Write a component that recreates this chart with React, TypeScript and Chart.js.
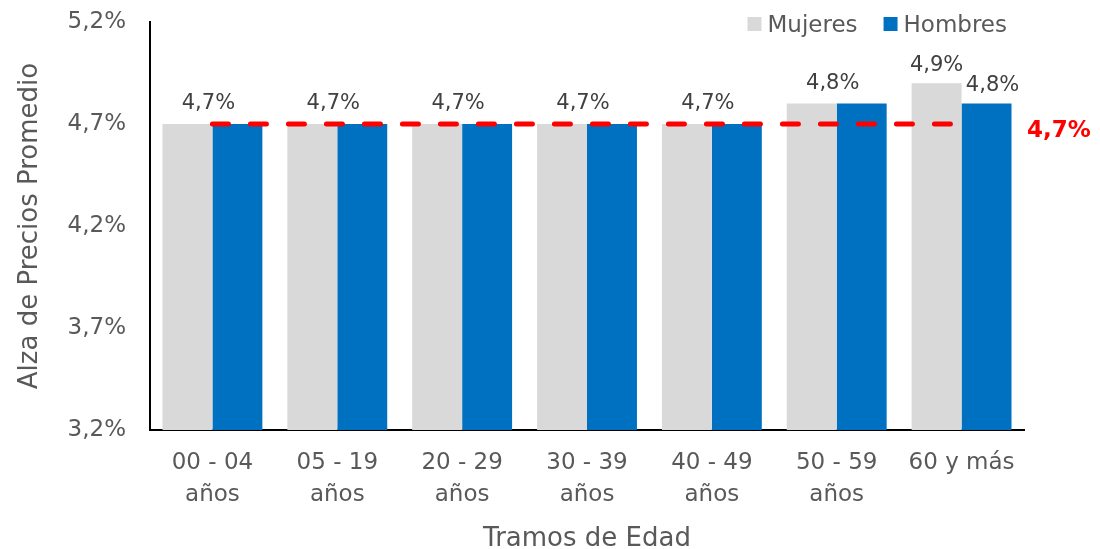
import React, { useEffect, useRef } from "react";
import { Chart, registerables } from "chart.js";

Chart.register(...registerables);

const categories: string[][] = [
  ["00 - 04", "años"],
  ["05 - 19", "años"],
  ["20 - 29", "años"],
  ["30 - 39", "años"],
  ["40 - 49", "años"],
  ["50 - 59", "años"],
  ["60 y más"],
];
const mujeres: number[] = [4.7, 4.7, 4.7, 4.7, 4.7, 4.8, 4.9];
const hombres: number[] = [4.7, 4.7, 4.7, 4.7, 4.7, 4.8, 4.8];
const promedio: number[] = [4.7, 4.7, 4.7, 4.7, 4.7, 4.7, 4.7];
const promedioLabel = "4,7%";
const yMin = 3.2;
const yMax = 5.2;
const yStep = 0.5;
const seriesNames = ["Mujeres", "Hombres"];

const COLOR_M = "#D9D9D9";
const COLOR_H = "#0070C0";
const COLOR_RED = "#FF0000";
const TEXT = "#595959";
const FONT = '"DejaVu Sans", Verdana, sans-serif';

const fmt = (v: number) => v.toFixed(1).replace(".", ",") + "%";

const labelsPlugin = {
  id: "customLabels",
  afterDatasetsDraw(chart: any) {
    const ctx = chart.ctx;
    const area = chart.chartArea;
    const mMeta = chart.getDatasetMeta(0);
    const hMeta = chart.getDatasetMeta(1);
    ctx.save();
    ctx.fillStyle = "#404040";
    ctx.font = `21px ${FONT}`;
    ctx.textAlign = "center";
    ctx.textBaseline = "alphabetic";
    for (let i = 0; i < mujeres.length; i++) {
      const bm = mMeta.data[i];
      const bh = hMeta.data[i];
      if (mujeres[i] === hombres[i]) {
        const x = (bm.x + bh.x) / 2 - 4;
        const y = Math.min(bm.y, bh.y) - 15;
        ctx.fillText(fmt(mujeres[i]), x, y);
      } else {
        ctx.fillText(fmt(mujeres[i]), bm.x, bm.y - 12);
        ctx.fillText(fmt(hombres[i]), bh.x + 6, bh.y - 13);
      }
    }
    // red average label
    const yScale = chart.scales.y;
    ctx.fillStyle = COLOR_RED;
    ctx.font = `bold 23px ${FONT}`;
    ctx.textAlign = "left";
    ctx.fillText(promedioLabel, area.right + 3, yScale.getPixelForValue(promedio[0]) + 13);

    // legend
    ctx.font = `23px ${FONT}`;
    ctx.fillStyle = TEXT;
    const colors = [COLOR_M, COLOR_H];
    const sq = 14;
    const gap = 6;
    const itemGap = 26;
    const widths = seriesNames.map((n) => ctx.measureText(n).width);
    let total = 0;
    widths.forEach((w, i) => {
      total += sq + gap + w + (i < widths.length - 1 ? itemGap : 0);
    });
    let x = area.right - 17 - total;
    const baseY = 32;
    seriesNames.forEach((n, i) => {
      ctx.fillStyle = colors[i];
      ctx.fillRect(x, 17, sq, sq);
      x += sq + gap;
      ctx.fillStyle = TEXT;
      ctx.fillText(n, x, baseY);
      x += widths[i] + itemGap;
    });
    ctx.restore();
  },
};

export default function App() {
  const ref = useRef<HTMLCanvasElement | null>(null);
  useEffect(() => {
    document.body.style.margin = "0";
    if (!ref.current) return;
    const chart = new Chart(ref.current, {
      type: "bar",
      data: {
        labels: categories,
        datasets: [
          {
            label: seriesNames[0],
            data: mujeres,
            backgroundColor: COLOR_M,
            categoryPercentage: 0.8,
            barPercentage: 1.0,
            order: 2,
          },
          {
            label: seriesNames[1],
            data: hombres,
            backgroundColor: COLOR_H,
            categoryPercentage: 0.8,
            barPercentage: 1.0,
            order: 2,
          },
          {
            type: "line",
            label: "Promedio",
            data: promedio,
            borderColor: COLOR_RED,
            borderWidth: 5,
            borderDash: [16, 22],
            borderCapStyle: "round",
            pointRadius: 0,
            fill: false,
            order: 0,
          } as any,
        ],
      },
      options: {
        animation: false,
        responsive: true,
        maintainAspectRatio: false,
        layout: { padding: { top: 22, right: 76, left: 0, bottom: 0 } },
        plugins: {
          legend: { display: false },
          tooltip: { enabled: false },
        },
        scales: {
          x: {
            grid: { display: false, drawTicks: false },
            border: { display: true, color: "#000000", width: 2 },
            ticks: {
              color: TEXT,
              font: { family: FONT, size: 23, lineHeight: 1.35 },
              padding: 18,
              maxRotation: 0,
              autoSkip: false,
            },
            title: {
              display: true,
              text: "Tramos de Edad",
              color: TEXT,
              font: { family: FONT, size: 26, lineHeight: 1 },
              padding: { top: 0, bottom: -3 },
            },
            afterFit(scale: any) {
              scale.height = 119;
            },
          },
          y: {
            min: yMin,
            max: yMax,
            grid: { display: false, drawTicks: false },
            border: { display: true, color: "#000000", width: 2 },
            ticks: {
              stepSize: yStep,
              color: TEXT,
              font: { family: FONT, size: 23 },
              padding: 24,
              callback: (v: any) => fmt(Number(v)),
            },
            title: {
              display: true,
              text: "Alza de Precios Promedio",
              color: TEXT,
              font: { family: FONT, size: 26, lineHeight: 1 },
              padding: { top: 17, bottom: 0 },
            },
            afterFit(scale: any) {
              scale.width = 150;
              scale.paddingTop = 0;
              scale.paddingBottom = 0;
            },
          },
        },
      },
      plugins: [labelsPlugin],
    });
    return () => chart.destroy();
  }, []);
  return (
    <div style={{ position: "relative", width: 1100, height: 549 }}>
      <canvas ref={ref} />
    </div>
  );
}
